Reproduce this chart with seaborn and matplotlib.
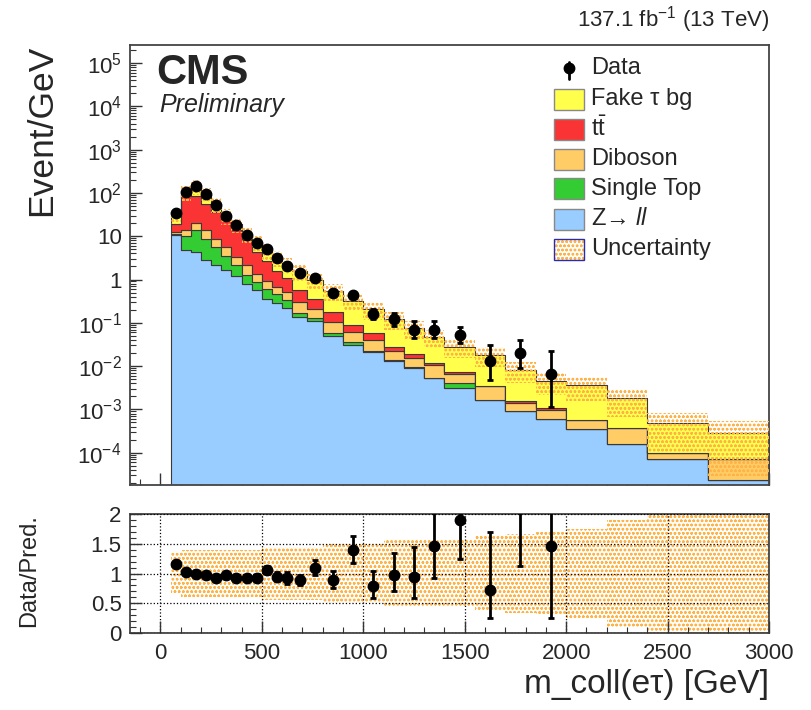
import numpy as np
import pandas as pd
import matplotlib
matplotlib.use("Agg")
import matplotlib.pyplot as plt
from matplotlib.patches import Rectangle
from matplotlib.lines import Line2D
from matplotlib.ticker import (MultipleLocator, LogLocator, FuncFormatter,
                               NullFormatter, FixedLocator)
import seaborn as sns

# ---------------------------------------------------------------------------
# m_coll(e tau) binning [GeV]
bin_edges = [50, 100, 150, 200, 250, 300, 350, 400, 450, 500, 550, 600, 650,
             725, 800, 900, 1000, 1100, 1200, 1300, 1400, 1550, 1700, 1850,
             2000, 2200, 2400, 2700, 3000]

# observed events per bin
data_counts = [1725, 5250, 7250, 4650, 2600, 1450, 895, 530, 340, 250, 153,
               101, 104, 80, 49, 44, 16, 12, 7, 7, 8, 2, 3, 1, 0, 0, 0, 0]

# expected backgrounds [events / GeV]
fake_tau = [10.0, 14.75, 62.0, 39.2, 19.7, 6.65, 5.58, 3.33, 3.03, 2.12, 1.64,
            1.13, 1.0, 0.616, 0.371, 0.228, 0.147, 0.095, 0.056, 0.0359,
            0.0206, 0.0148, 0.00655, 0.00348, 0.00308, 0.00142, 3.76e-4,
            2.19e-4]
ttbar = [7.05, 74.6, 64.8, 43.1, 27.5, 17.7, 10.4, 5.93, 2.9, 1.68, 0.93,
         0.56, 0.262, 0.15, 0.074, 0.0263, 0.0155, 0.0053, 0.0030, 0.0016,
         0.00086, 0.0, 0.00018, 0.000125, 0.0, 0.0, 0.0, 0.0]
diboson = [1.15, 3.7, 6.5, 4.86, 3.19, 2.11, 1.18, 0.84, 0.495, 0.33, 0.2,
           0.17, 0.133, 0.088, 0.0483, 0.0266, 0.0185, 0.0088, 0.0064, 0.0051,
           0.00254, 0.00177, 0.000447, 0.000376, 0.000221, 0.00022, 2.83e-5,
           4.68e-5]
single_top = [0.9, 5.2, 9.4, 6.05, 3.51, 1.90, 0.95, 0.52, 0.313, 0.246,
              0.181, 0.112, 0.036, 0.017, 0.0083, 0.0047, 0.0014, 0.0007,
              0.0003, 0.0002, 0.00093, 0.0, 0.0, 0.0, 0.0, 0.0, 0.0, 0.0]
z_ll = [10.5, 4.75, 4.34, 2.79, 2.14, 1.64, 1.19, 0.78, 0.567, 0.351, 0.294,
        0.221, 0.135, 0.109, 0.0484, 0.0305, 0.0213, 0.0130, 0.00912,
        0.00519, 0.00305, 0.00168, 0.000927, 0.000588, 0.000345, 0.000156,
        7.13e-5, 2.33e-5]

# relative uncertainty band on the stacked prediction
stack_unc = [0.35, 0.38, 0.38, 0.38, 0.38, 0.38, 0.38, 0.38, 0.38, 0.40,
             0.40, 0.40, 0.40, 0.40, 0.42, 0.42, 0.42, 0.45, 0.45, 0.45,
             0.45, 0.48, 0.50, 0.52, 0.57, 0.62, 0.78, 0.90]
# relative uncertainty band in the Data/Pred. panel
ratio_unc = [0.35, 0.40, 0.40, 0.40, 0.40, 0.40, 0.40, 0.40, 0.40, 0.44,
             0.44, 0.44, 0.44, 0.44, 0.50, 0.50, 0.50, 0.56, 0.56, 0.56,
             0.57, 0.63, 0.67, 0.70, 0.74, 0.90, 1.0, 1.0]

process_names = ["Fake τ bg", r"$\mathrm{t}\bar{\mathrm{t}}$", "Diboson",
                 "Single Top", r"Z→ $\mathit{ll}$"]
process_colors = ["#ffff4c", "#fa3434", "#ffcc66", "#33cc33", "#99ccff"]

# ---------------------------------------------------------------------------
sns.set_theme(style="ticks")
plt.rcParams["font.family"] = ["Liberation Sans", "DejaVu Sans"]
plt.rcParams["mathtext.fontset"] = "custom"
plt.rcParams["mathtext.rm"] = "Liberation Sans"
plt.rcParams["mathtext.it"] = "Liberation Sans:italic"
plt.rcParams["mathtext.bf"] = "Liberation Sans:bold"
plt.rcParams["hatch.linewidth"] = 0.7
plt.rcParams["axes.edgecolor"] = "#444444"

W, H = 812, 710
fig = plt.figure(figsize=(W / 100, H / 100), dpi=100)


def fx(x):
    return x / W


def fy(y):
    return 1 - y / H


ax = fig.add_axes([fx(130), fy(485), (769 - 130) / W, (485 - 45) / H])
rax = fig.add_axes([fx(130), fy(633), (769 - 130) / W, (633 - 514) / H])

edges = np.array(bin_edges, dtype=float)
widths = np.diff(edges)
centers = 0.5 * (edges[:-1] + edges[1:])

# stacked backgrounds (first hue level ends up on top of the stack)
frames = []
for name, vals in zip(process_names,
                      [fake_tau, ttbar, diboson, single_top, z_ll]):
    frames.append(pd.DataFrame({"m": centers, "w": vals, "proc": name}))
df = pd.concat(frames, ignore_index=True)

sns.histplot(data=df, x="m", weights="w", hue="proc",
             hue_order=process_names, palette=process_colors,
             multiple="stack", bins=list(bin_edges), element="step",
             fill=True, alpha=1.0, edgecolor="#3a3a3a", linewidth=0.8,
             legend=False, ax=ax)

total = (np.array(fake_tau) + np.array(ttbar) + np.array(diboson)
         + np.array(single_top) + np.array(z_ll))
s_unc = np.array(stack_unc)
r_unc = np.array(ratio_unc)

hatch_col = "#ffb347"
hatch_pat = "oooo"
ax.stairs(total * (1 + s_unc), edges,
          baseline=np.clip(total * (1 - s_unc), 0, None),
          fill=True, facecolor="none", edgecolor=hatch_col, hatch=hatch_pat,
          linewidth=0, zorder=3)

# data with Poisson intervals
n = np.array(data_counts, dtype=float)
mask = n > 0
nn = n[mask]
lo = nn * (1 - 1 / (9 * nn) - 1 / (3 * np.sqrt(nn))) ** 3
hi = (nn + 1) * (1 - 1 / (9 * (nn + 1)) + 1 / (3 * np.sqrt(nn + 1))) ** 3
w = widths[mask]
dens = nn / w
ax.errorbar(centers[mask], dens, yerr=[dens - lo / w, hi / w - dens],
            fmt="o", color="black", ms=7.5, elinewidth=2, capsize=2.2,
            capthick=2, zorder=5)

ax.set_yscale("log")
ax.set_xlim(-150, 3000)
ax.set_ylim(1.8e-5, 2.6e5)


def log_label(v, pos):
    e = int(round(np.log10(v)))
    if e == 0:
        return "1"
    if e == 1:
        return "10"
    return r"$10^{%d}$" % e


ax.yaxis.set_major_locator(LogLocator(base=10, numticks=20))
ax.yaxis.set_major_formatter(FuncFormatter(log_label))
ax.yaxis.set_minor_locator(LogLocator(base=10, subs=np.arange(2, 10),
                                      numticks=200))
ax.yaxis.set_minor_formatter(NullFormatter())
ax.xaxis.set_major_locator(MultipleLocator(500))
ax.xaxis.set_minor_locator(MultipleLocator(100))
ax.tick_params(axis="x", labelbottom=False)
ax.set_xlabel("")
ax.set_ylabel("Event/GeV", fontsize=25.5, loc="top")
ax.yaxis.set_label_coords(-0.112, 1.0)

for a in (ax, rax):
    a.tick_params(which="major", direction="in", length=8.5, width=1,
                  labelsize=16, color="#333333")
    a.tick_params(which="minor", direction="in", length=4.3, width=0.8,
                  color="#333333")
    a.tick_params(axis="y", pad=6)
    a.tick_params(axis="x", pad=7)
    for s in a.spines.values():
        s.set_linewidth(1.3)
        s.set_color("#444444")

# ratio panel
rax.stairs(1 + r_unc, edges, baseline=1 - r_unc, fill=True, facecolor="none",
           edgecolor=hatch_col, hatch=hatch_pat, linewidth=0, zorder=2)
ratio = dens / total[mask]
rax.errorbar(centers[mask], ratio,
             yerr=[(dens - lo / w) / total[mask], (hi / w - dens) / total[mask]],
             fmt="o", color="black", ms=7.5, elinewidth=2, capsize=2.2,
             capthick=2, zorder=5)
rax.set_xlim(-150, 3000)
rax.set_ylim(0, 2)
rax.yaxis.set_major_locator(FixedLocator([0, 0.5, 1, 1.5, 2]))
rax.yaxis.set_major_formatter(FuncFormatter(lambda v, p: f"{v:g}"))
rax.yaxis.set_minor_locator(MultipleLocator(0.1))
rax.xaxis.set_major_locator(MultipleLocator(500))
rax.xaxis.set_minor_locator(MultipleLocator(100))
rax.grid(True, which="major", linestyle=":", color="black", linewidth=0.9)
rax.set_axisbelow(False)
rax.set_ylabel("Data/Pred.", fontsize=17, loc="top")
rax.yaxis.set_label_coords(-0.14, 1.0)
rax.set_xlabel("m_coll(eτ) [GeV]", fontsize=24, loc="right")
rax.xaxis.set_label_coords(1.0, -0.3)

# header texts
fig.text(fx(156), fy(73), "CMS", fontsize=30, fontweight="bold",
         ha="left", va="center")
fig.text(fx(159), fy(105), "Preliminary", fontsize=18, style="italic",
         ha="left", va="center")
fig.text(fx(769), fy(20), r"137.1 fb$^{-1}$ (13 TeV)", fontsize=16,
         ha="right", va="center")

# legend
leg_rows = [68, 99, 129, 159, 189, 219.5, 249.5]
fig.add_artist(Line2D([fx(569), fx(569)], [fy(61.5), fy(78.5)],
                      color="black", lw=2))
fig.add_artist(Line2D([fx(569)], [fy(68)], marker="o", ms=7.5,
                      color="black"))
fig.text(fx(591), fy(leg_rows[0]), "Data", fontsize=17, va="center")
box_w, box_h = 30, 21
for yc, name, col in zip(leg_rows[1:6], process_names, process_colors):
    fig.add_artist(Rectangle((fx(554), fy(yc + box_h / 2)), box_w / W,
                             box_h / H, transform=fig.transFigure,
                             facecolor=col, edgecolor="#888888", lw=1))
    fig.text(fx(591), fy(yc), name, fontsize=17, va="center")
yc = leg_rows[6]
fig.add_artist(Rectangle((fx(554), fy(yc + box_h / 2)), box_w / W, box_h / H,
                         transform=fig.transFigure, facecolor="white",
                         edgecolor=hatch_col, hatch=hatch_pat, lw=0))
fig.add_artist(Rectangle((fx(554), fy(yc + box_h / 2)), box_w / W, box_h / H,
                         transform=fig.transFigure, facecolor="none",
                         edgecolor="#2a2ab0", lw=1))
fig.text(fx(591), fy(yc), "Uncertainty", fontsize=17, va="center")

fig.savefig("out.png", dpi=100)
